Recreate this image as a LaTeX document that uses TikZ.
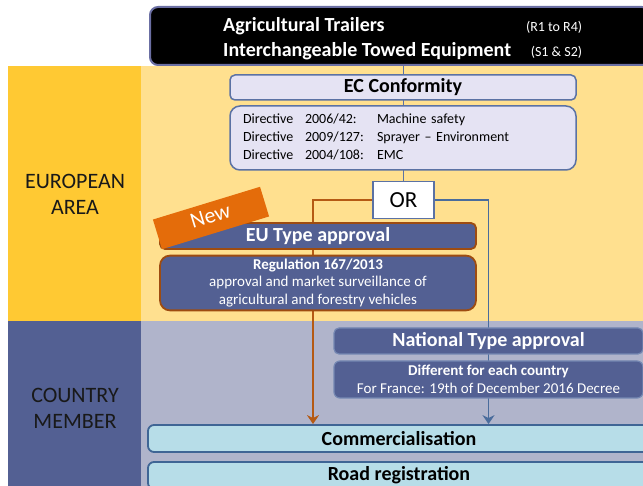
\documentclass[tikz,border=0pt]{standalone}
\usepackage{fontspec}
\setmainfont{Carlito}
\usetikzlibrary{arrows.meta,calc,positioning}
\definecolor{areagold}{HTML}{FFC933}
\definecolor{arealight}{HTML}{FFE08F}
\definecolor{memberdark}{HTML}{536093}
\definecolor{memberlight}{HTML}{B0B4CB}
\definecolor{lavender}{HTML}{E5E3F3}
\definecolor{frameblue}{HTML}{5B72A4}
\definecolor{titleframe}{HTML}{6B6FA3}
\definecolor{typebrown}{HTML}{9E4C10}
\definecolor{linkbrown}{HTML}{B55A14}
\definecolor{linkblue}{HTML}{4A6C9C}
\definecolor{paleblue}{HTML}{B7DDE8}
\definecolor{saleframe}{HTML}{3F6595}
\definecolor{neworange}{HTML}{E46C0A}
\pgfdeclarelayer{bands}
\pgfdeclarelayer{links}
\pgfsetlayers{bands,links,main}
\tikzset{%
	titlebox/.style = {draw=titleframe, line width=2pt, fill=black, rounded corners=8pt, minimum width=500pt, minimum height=58pt},
	ecbox/.style    = {draw=frameblue, line width=1.5pt, fill=lavender, minimum width=346pt}, % EC conformity
	typebox/.style  = {draw=typebrown, line width=1.8pt, fill=memberdark, text=white, minimum width=316pt}, % EU type approval
	natbox/.style   = {draw=frameblue!85, line width=1.2pt, fill=memberdark, text=white, minimum width=309pt}, % national
	salebox/.style  = {draw=saleframe, line width=1.8pt, fill=paleblue, rounded corners=6pt, minimum width=502pt, minimum height=27pt, font=\fontsize{20}{24}\selectfont\bfseries},
	orbox/.style    = {draw=frameblue, line width=1.2pt, fill=white, minimum width=61pt, minimum height=37pt, font=\fontsize{23}{23}\selectfont},
	newtag/.style   = {fill=neworange, text=white, minimum width=112pt, minimum height=31pt, font=\fontsize{22}{22}\selectfont},
	areatext/.style = {align=center, text=black!90, font=\fontsize{22}{26}\selectfont},
	link/.style     = {line width=1.3pt, -{Stealth[length=9pt,width=12pt,inset=3pt]}},
}
\begin{document}
\begin{tikzpicture}[x=1pt,y=-1pt]
	\useasboundingbox (0,0) rectangle (643,486);
	\begin{pgfonlayer}{bands}
		\fill[areagold] (8,66) rectangle (141,321);
		\fill[arealight] (141,66) rectangle (643,321);
		\fill[memberdark] (8,321) rectangle (141,486);
		\fill[memberlight] (141,321) rectangle (643,486);
	\end{pgfonlayer}
	\node[areatext] (europe) at (75,194) {EUROPEAN\\AREA};
	\node[areatext] (member) at (75,408) {COUNTRY\\MEMBER};
	% top
	\node[titlebox] (title) at (400,36) {};
	\node[anchor=base west, text=white, inner sep=0pt, font=\fontsize{20}{25}\selectfont\bfseries] (titletext) at (223,32)
		{\begin{tabular*}{359pt}[t]{@{}l@{\extracolsep{\fill}}r@{}}
			Agricultural Trailers & {\fontsize{14}{14}\selectfont\mdseries (R1 to R4)}\\
			Interchangeable Towed Equipment & {\fontsize{14}{14}\selectfont\mdseries (S1 \& S2)}
		\end{tabular*}};
	\node[ecbox, rounded corners=5pt, minimum height=25pt, font=\fontsize{20}{24}\selectfont\bfseries] (ec) at (403,87.5) {EC Conformity};
	\node[ecbox, rounded corners=10pt, minimum height=64pt, text width=320pt, inner xsep=13pt, font=\fontsize{14}{18}\selectfont] (directives) at (403,138)
		{\begin{tabular}{@{}p{62pt}@{}p{72pt}@{}l@{}}
			Directive & 2006/42: & Machine safety\\
			Directive & 2009/127: & Sprayer -- Environment\\
			Directive & 2004/108: & EMC
		\end{tabular}};
	\node[orbox] (orsel) at (403.5,200) {OR};
	% EU route
	\node[typebox, rounded corners=5pt, minimum height=26pt, font=\fontsize{20}{24}\selectfont\bfseries] (eutype) at (318,236) {EU Type approval};
	\node[typebox, rounded corners=10pt, minimum height=54pt, align=center, font=\fontsize{15}{17.5}\selectfont] (regulation) at (318,283)
		{\textbf{Regulation 167/2013}\\approval and market surveillance of\\agricultural and forestry vehicles};
	\node[newtag, rotate=17] (new) at (211,218) {\raisebox{4pt}{New}};
	% national route
	\node[natbox, rounded corners=5pt, minimum height=26pt, font=\fontsize{20}{24}\selectfont\bfseries] (natapp) at (488.5,341) {National Type approval};
	\node[natbox, rounded corners=6pt, minimum height=37pt, align=center, font=\fontsize{15}{18}\selectfont] (natrule) at (488.5,379.5)
		{\textbf{Different for each country}\\For France: 19th of December 2016 Decree};
	\node[salebox] (sale) at (399,438.5) {Commercialisation};
	\node[salebox] (road) at (399,475.5) {Road registration};
	\coordinate (eulane) at (313,200);
	\begin{pgfonlayer}{links}
		\draw[frameblue, line width=1.2pt] (orsel.north |- title.south) -- (orsel.north);
		\draw[link, linkbrown] (orsel.west) -- (eulane) -- (eulane |- sale.north);
		\draw[link, linkblue] (orsel.east) -| (natapp.north |- sale.north);
	\end{pgfonlayer}
\end{tikzpicture}
\end{document}
